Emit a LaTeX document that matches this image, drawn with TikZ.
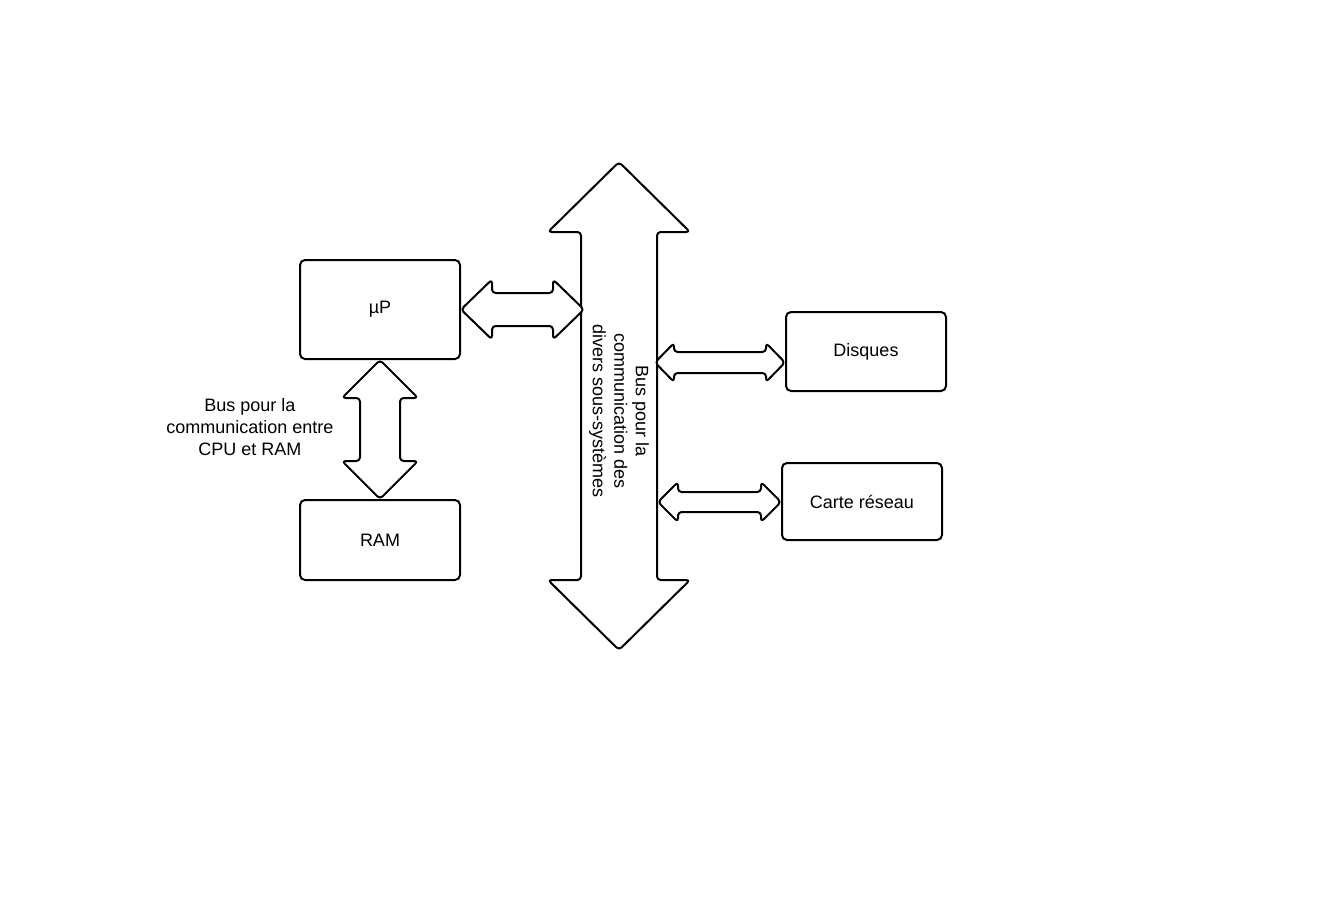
\documentclass[tikz,border=0pt]{standalone}
\usepackage{fontspec}
\setmainfont{Liberation Sans}
\usetikzlibrary{calc}

\tikzset{
  % horizontal double arrow: shaft half width, head half width, head length
  hdbl/.style n args={3}{to path={let \p1=(\tikztostart), \p2=(\tikztotarget) in
    (\x1,\y1) -- (\x1+#3,\y1+#2) -- (\x1+#3,\y1+#1) -- (\x2-#3,\y1+#1) -- (\x2-#3,\y1+#2)
    -- (\x2,\y1) -- (\x2-#3,\y1-#2) -- (\x2-#3,\y1-#1) -- (\x1+#3,\y1-#1) -- (\x1+#3,\y1-#2) -- cycle}},
  % vertical double arrow, from top to bottom
  vdbl/.style n args={3}{to path={let \p1=(\tikztostart), \p2=(\tikztotarget) in
    (\x1,\y1) -- (\x1+#2,\y1-#3) -- (\x1+#1,\y1-#3) -- (\x1+#1,\y2+#3) -- (\x1+#2,\y2+#3)
    -- (\x1,\y2) -- (\x1-#2,\y2+#3) -- (\x1-#1,\y2+#3) -- (\x1-#1,\y1-#3) -- (\x1-#2,\y1-#3) -- cycle}},
}

\begin{document}
\begin{tikzpicture}[x=0.5pt,y=-0.5pt,line width=1pt,
    every node/.style={font=\fontsize{9}{10.8}\selectfont},
    box/.style={shape=rectangle,draw,rounded corners=2.5pt,minimum width=80pt,inner sep=0pt},
    bigarrow/.style={draw,fill=white,rounded corners=1.8pt,line join=round}]
    \useasboundingbox (0,0) rectangle (1340,900);
    % create the nodes
    \node (up)   [box, minimum height=49.5pt] at (380,309.5) {µP};
    \node (ram)  [box, minimum height=40pt]   at (380,540)   {RAM};
    \node (disk) [box, minimum height=39.5pt] at (866,351.5) {Disques};
    \node (net)  [box, minimum height=38.5pt] at (862,501.5) {Carte réseau};
    \node (cpulabel) [align=center] at (250,427) {Bus pour la\\communication entre\\CPU et RAM};
    % bus ends and connector ends
    \coordinate (bustop) at (619,162);
    \coordinate (busbot) at (619,650);
    \coordinate (b1) at (584,310);
    \coordinate (d1) at (655,362.5);
    \coordinate (d2) at (785,362.5);
    \coordinate (n1) at (658,502);
    \coordinate (n2) at (781,502);
    % connect the nodes
    \draw[bigarrow] (bustop) to[vdbl={19pt}{35.5pt}{35pt}] (busbot);
    \node (buslabel) [rotate=-90, align=center] at (619,411) {Bus pour la\\communication des\\divers sous-systèmes};
    \draw[bigarrow] (up.east) to[hdbl={8.25pt}{15pt}{15.5pt}] (b1);
    \draw[bigarrow] (up.south) to[vdbl={10pt}{19pt}{19pt}] (ram.north);
    \draw[bigarrow] (d1) to[hdbl={5.25pt}{9.75pt}{9.5pt}] (d2);
    \draw[bigarrow] (n1) to[hdbl={5pt}{10pt}{10pt}] (n2);
\end{tikzpicture}
\end{document}
